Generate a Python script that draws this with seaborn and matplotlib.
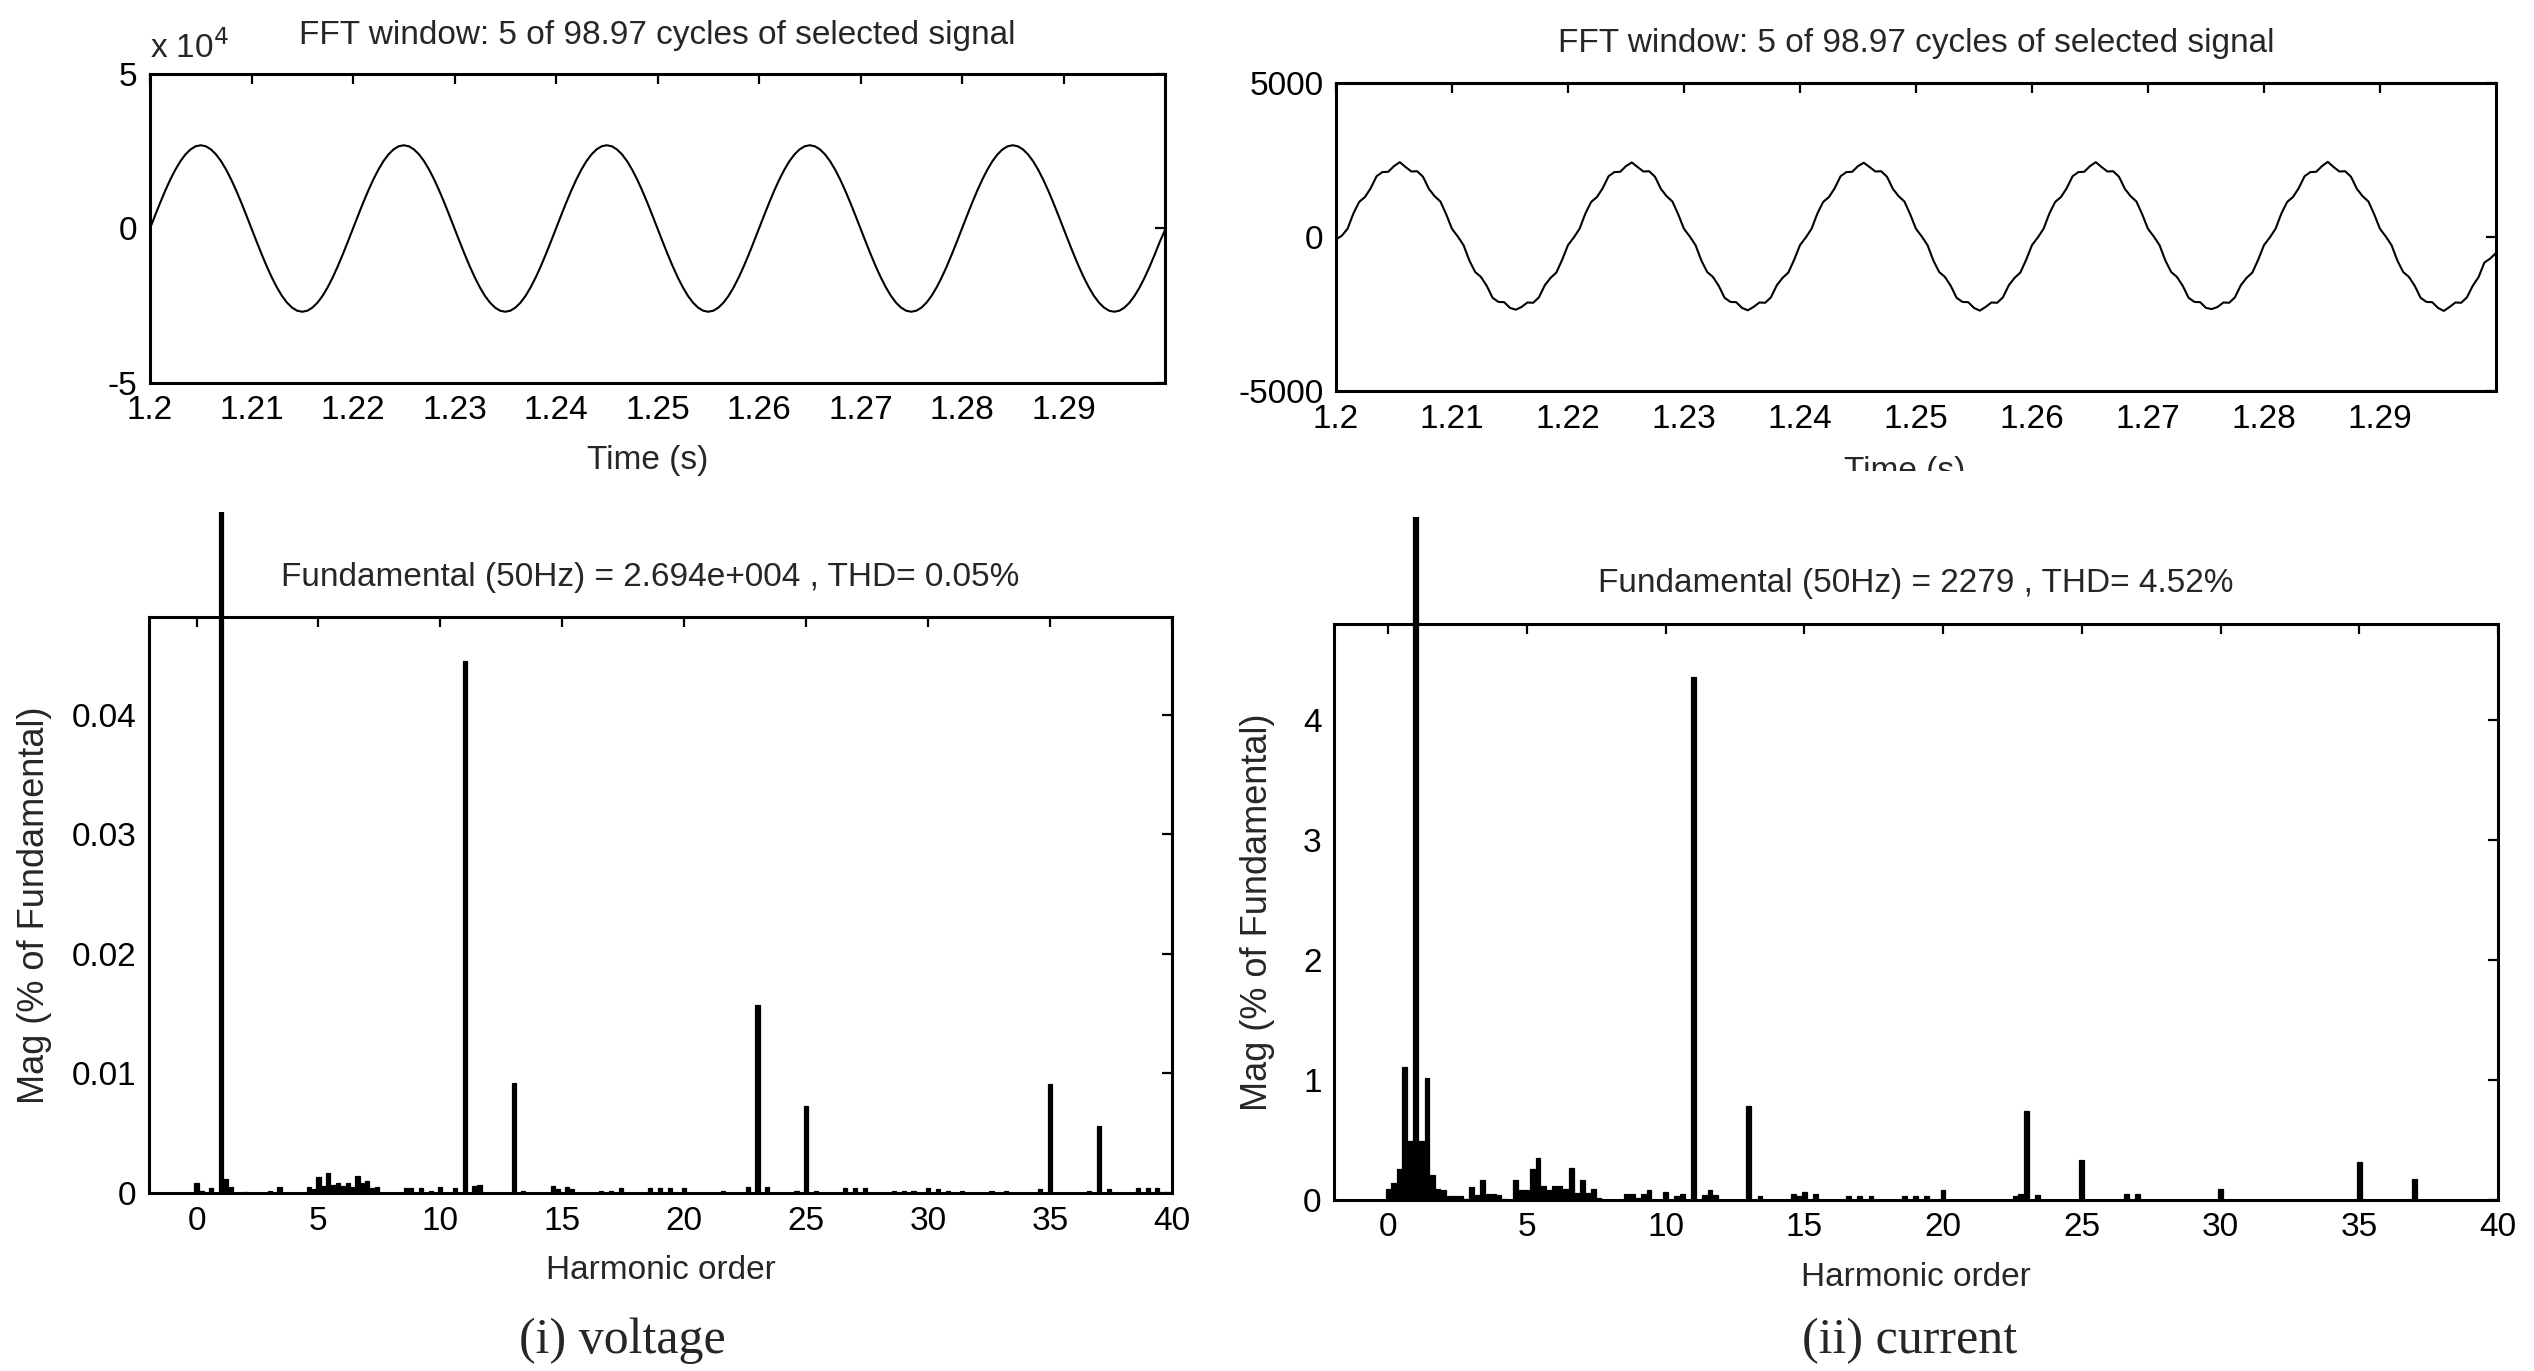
import numpy as np
import pandas as pd
import matplotlib
matplotlib.use("Agg")
import matplotlib.pyplot as plt
import matplotlib.transforms as mtransforms
import seaborn as sns

# ---------------- data ----------------
# voltage waveform, units of 1e4 V, samples every 0.5 ms from 1.2 s to 1.3 s
voltage_e4 = [
    0, 0.421, 0.832, 1.223, 1.584, 1.905, 2.180, 2.400, 2.561, 2.661, 2.694, 2.661, 2.561, 2.400, 2.180, 1.905, 1.584, 1.223, 0.832, 0.421,
    0, -0.421, -0.832, -1.223, -1.584, -1.905, -2.180, -2.400, -2.561, -2.661, -2.694, -2.661, -2.561, -2.400, -2.180, -1.905, -1.584, -1.223, -0.832, -0.421,
    0, 0.421, 0.832, 1.223, 1.584, 1.905, 2.180, 2.400, 2.561, 2.661, 2.694, 2.661, 2.561, 2.400, 2.180, 1.905, 1.584, 1.223, 0.832, 0.421,
    0, -0.421, -0.832, -1.223, -1.584, -1.905, -2.180, -2.400, -2.561, -2.661, -2.694, -2.661, -2.561, -2.400, -2.180, -1.905, -1.584, -1.223, -0.832, -0.421,
    0, 0.421, 0.832, 1.223, 1.584, 1.905, 2.180, 2.400, 2.561, 2.661, 2.694, 2.661, 2.561, 2.400, 2.180, 1.905, 1.584, 1.223, 0.832, 0.421,
    0, -0.421, -0.832, -1.223, -1.584, -1.905, -2.180, -2.400, -2.561, -2.661, -2.694, -2.661, -2.561, -2.400, -2.180, -1.905, -1.584, -1.223, -0.832, -0.421,
    0, 0.421, 0.832, 1.223, 1.584, 1.905, 2.180, 2.400, 2.561, 2.661, 2.694, 2.661, 2.561, 2.400, 2.180, 1.905, 1.584, 1.223, 0.832, 0.421,
    0, -0.421, -0.832, -1.223, -1.584, -1.905, -2.180, -2.400, -2.561, -2.661, -2.694, -2.661, -2.561, -2.400, -2.180, -1.905, -1.584, -1.223, -0.832, -0.421,
    0, 0.421, 0.832, 1.223, 1.584, 1.905, 2.180, 2.400, 2.561, 2.661, 2.694, 2.661, 2.561, 2.400, 2.180, 1.905, 1.584, 1.223, 0.832, 0.421,
    0, -0.421, -0.832, -1.223, -1.584, -1.905, -2.180, -2.400, -2.561, -2.661, -2.694, -2.661, -2.561, -2.400, -2.180, -1.905, -1.584, -1.223, -0.832, -0.421,
    -0.05,
]

# current waveform, A, samples every 0.5 ms from 1.2 s to 1.3 s
current_a = [
    -80, 40, 269, 765, 1139, 1299, 1588, 1974, 2107, 2117, 2302, 2429, 2271, 2127, 2135, 1956, 1566, 1325, 1153, 736,
    264, 16, -269, -765, -1139, -1299, -1588, -1974, -2107, -2117, -2302, -2360, -2271, -2127, -2135, -1956, -1566, -1325, -1153, -736,
    -264, -16, 269, 765, 1139, 1299, 1588, 1974, 2107, 2117, 2302, 2420, 2271, 2127, 2135, 1956, 1566, 1325, 1153, 736,
    264, 16, -269, -765, -1139, -1299, -1588, -1974, -2107, -2117, -2302, -2380, -2271, -2127, -2135, -1956, -1566, -1325, -1153, -736,
    -264, -16, 269, 765, 1139, 1299, 1588, 1974, 2107, 2117, 2302, 2410, 2271, 2127, 2135, 1956, 1566, 1325, 1153, 736,
    264, 16, -269, -765, -1139, -1299, -1588, -1974, -2107, -2117, -2302, -2390, -2271, -2127, -2135, -1956, -1566, -1325, -1153, -736,
    -264, -16, 269, 765, 1139, 1299, 1588, 1974, 2107, 2117, 2302, 2429, 2271, 2127, 2135, 1956, 1566, 1325, 1153, 736,
    264, 16, -269, -765, -1139, -1299, -1588, -1974, -2107, -2117, -2302, -2340, -2271, -2127, -2135, -1956, -1566, -1325, -1153, -736,
    -264, -16, 269, 765, 1139, 1299, 1588, 1974, 2107, 2117, 2302, 2440, 2271, 2127, 2135, 1956, 1566, 1325, 1153, 736,
    264, 16, -269, -765, -1139, -1299, -1588, -1974, -2107, -2117, -2302, -2400, -2271, -2127, -2135, -1956, -1580, -1300, -830, -700,
    -520,
]

time_start, time_end = 1.2, 1.3
time_ticks = [1.2, 1.21, 1.22, 1.23, 1.24, 1.25, 1.26, 1.27, 1.28, 1.29]
time_tick_labels = ["1.2", "1.21", "1.22", "1.23", "1.24", "1.25", "1.26", "1.27", "1.28", "1.29"]

# voltage spectrum: harmonic order, magnitude (% of fundamental)
v_order = [0.0, 0.2, 0.6, 1.0, 1.2, 1.4, 2.0, 3.0, 3.4, 4.6, 4.8, 5.0, 5.2, 5.4, 5.6, 5.8, 6.0, 6.2, 6.4,
           6.6, 6.8, 7.0, 7.2, 7.4, 8.6, 8.8, 9.2, 9.6, 10.0, 10.6, 11.0, 11.4, 11.6, 13.0, 13.4, 14.6,
           14.8, 15.2, 15.4, 16.6, 17.0, 17.4, 18.6, 19.0, 19.4, 20.0, 21.6, 22.6, 23.0, 23.4, 24.6,
           25.0, 25.4, 26.6, 27.0, 27.4, 28.6, 29.0, 29.4, 30.0, 30.4, 30.8, 31.4, 32.6, 33.2, 34.6,
           35.0, 36.6, 37.0, 37.4, 38.6, 39.0, 39.4]
v_mag = [0.0008, 0.0002, 0.0004, 100.0, 0.0012, 0.0005, 0.0001, 0.0002, 0.0005, 0.0005, 0.0003, 0.0013,
         0.0006, 0.0017, 0.0007, 0.0008, 0.0006, 0.0008, 0.0005, 0.0014, 0.0008, 0.0010, 0.0004, 0.0005,
         0.0004, 0.0004, 0.0004, 0.0002, 0.0005, 0.0004, 0.0445, 0.0006, 0.0007, 0.0092, 0.0002, 0.0006,
         0.0003, 0.0005, 0.0003, 0.0002, 0.0002, 0.0004, 0.0004, 0.0004, 0.0004, 0.0004, 0.0002, 0.0005,
         0.0157, 0.0005, 0.0002, 0.0073, 0.0002, 0.0004, 0.0004, 0.0004, 0.0002, 0.0002, 0.0002, 0.0004,
         0.0003, 0.0002, 0.0002, 0.0002, 0.0002, 0.0003, 0.0091, 0.0002, 0.0056, 0.0003, 0.0004, 0.0004,
         0.0004]

# current spectrum: harmonic order, magnitude (% of fundamental)
i_order = [0.0, 0.2, 0.4, 0.6, 0.8, 1.0, 1.2, 1.4, 1.6, 1.8, 2.0, 2.2, 2.4, 2.6, 2.8, 3.0, 3.2, 3.4, 3.6,
           3.8, 4.0, 4.2, 4.6, 4.8, 5.0, 5.2, 5.4, 5.6, 5.8, 6.0, 6.2, 6.4, 6.6, 6.8, 7.0, 7.2, 7.4, 7.6,
           8.6, 8.8, 9.0, 9.2, 9.4, 10.0, 10.4, 10.6, 11.0, 11.4, 11.6, 11.8, 13.0, 13.4, 14.6, 14.8,
           15.0, 15.4, 16.6, 17.0, 17.4, 18.6, 19.0, 19.4, 20.0, 22.6, 22.8, 23.0, 23.4, 25.0, 26.6,
           27.0, 30.0, 35.0, 37.0]
i_mag = [0.09, 0.14, 0.26, 1.11, 0.49, 100.0, 0.49, 1.02, 0.21, 0.09, 0.08, 0.03, 0.03, 0.03, 0.01, 0.11,
         0.04, 0.17, 0.05, 0.05, 0.04, 0.01, 0.17, 0.08, 0.08, 0.26, 0.35, 0.12, 0.08, 0.12, 0.12, 0.09,
         0.27, 0.06, 0.17, 0.06, 0.09, 0.02, 0.05, 0.05, 0.02, 0.05, 0.08, 0.07, 0.03, 0.05, 4.36, 0.04,
         0.08, 0.04, 0.78, 0.03, 0.05, 0.03, 0.07, 0.05, 0.03, 0.03, 0.03, 0.03, 0.03, 0.03, 0.08, 0.03,
         0.05, 0.745, 0.04, 0.33, 0.05, 0.05, 0.09, 0.32, 0.175]

v_ticks = [0, 5, 10, 15, 20, 25, 30, 35, 40]
v_yticks = [0, 0.01, 0.02, 0.03, 0.04]
v_yticklabels = ["0", "0.01", "0.02", "0.03", "0.04"]
i_yticks = [0, 1, 2, 3, 4]

title_wave = "FFT window: 5 of 98.97 cycles of selected signal"
title_v = "Fundamental (50Hz) = 2.694e+004 , THD= 0.05%"
title_i = "Fundamental (50Hz) = 2279 , THD= 4.52%"

# ---------------- style ----------------
sns.set_theme(style="white")
NARROW = ["Liberation Sans Narrow", "Liberation Sans", "DejaVu Sans"]
plt.rcParams["font.family"] = NARROW
plt.rcParams["axes.linewidth"] = 2.2
plt.rcParams["axes.edgecolor"] = "black"

W, H = 2534, 1371
fig = plt.figure(figsize=(W / 100, H / 100), dpi=100)
fig.patch.set_facecolor("white")


def px_axes(l, t, r, b):
    return fig.add_axes([l / W, 1 - b / H, (r - l) / W, (b - t) / H])


ax_tl = px_axes(150, 74, 1165, 383)
ax_tr = px_axes(1336, 83, 2496, 391)
ax_bl = px_axes(149, 617, 1172, 1193)
ax_br = px_axes(1334, 624, 2498, 1200)

TICK_FS = 24
LABEL_FS = 24


def style_axes(ax):
    ax.set_facecolor("white")
    for s in ax.spines.values():
        s.set_visible(True)
        s.set_color("black")
        s.set_linewidth(2.2)
    ax.tick_params(axis="both", direction="in", top=True, right=True, length=7, width=1.6,
                   colors="black", labelsize=TICK_FS)
    ax.tick_params(axis="x", pad=9)
    ax.tick_params(axis="y", pad=9)
    ax.grid(False)


# ---- top waveforms ----
t_v = np.linspace(time_start, time_end, len(voltage_e4))
t_i = np.linspace(time_start, time_end, len(current_a))

sns.lineplot(x=t_v, y=voltage_e4, ax=ax_tl, color="black", linewidth=1.5, estimator=None, sort=False)
sns.lineplot(x=t_i, y=current_a, ax=ax_tr, color="black", linewidth=1.5, estimator=None, sort=False)

for ax in (ax_tl, ax_tr):
    style_axes(ax)
    ax.set_xlim(time_start, time_end)
    ax.set_xticks(time_ticks)
    ax.set_xticklabels(time_tick_labels)
    ax.set_xlabel("Time (s)", fontsize=LABEL_FS, va="center")
    ax.set_ylabel("")

ax_tl.set_ylim(-5, 5)
ax_tl.set_yticks([-5, 0, 5])
ax_tl.set_yticklabels(["-5", "0", "5"])
ax_tr.set_ylim(-5000, 5000)
ax_tr.set_yticks([-5000, 0, 5000])
ax_tr.set_yticklabels(["-5000", "0", "5000"])

ax_tl.xaxis.set_label_coords(0.49, -0.252)
ax_tr.xaxis.set_label_coords(0.49, -0.26)
# the right-hand "Time (s)" is cut off in the source image
clip = mtransforms.TransformedBbox(mtransforms.Bbox.from_extents(0, 1 - 471 / H, 1, 1), fig.transFigure)
ax_tr.xaxis.label.set_clip_box(clip)
ax_tr.xaxis.label.set_clip_on(True)

ax_tl.text(0.5, 1.123, title_wave, transform=ax_tl.transAxes, ha="center", va="center", fontsize=LABEL_FS)
ax_tr.text(0.5, 1.127, title_wave, transform=ax_tr.transAxes, ha="center", va="center", fontsize=LABEL_FS)
ax_tl.text(0.0, 1.084, r"x 10$^{4}$", transform=ax_tl.transAxes, ha="left", va="center", fontsize=LABEL_FS)

# ---- bottom spectra ----
df_v = pd.DataFrame({"order": v_order, "mag": v_mag})
df_i = pd.DataFrame({"order": i_order, "mag": i_mag})

sns.barplot(data=df_v, x="order", y="mag", ax=ax_bl, native_scale=True, color="black",
            saturation=1, errorbar=None, width=0.85, edgecolor="black", linewidth=0.9)
sns.barplot(data=df_i, x="order", y="mag", ax=ax_br, native_scale=True, color="black",
            saturation=1, errorbar=None, width=0.85, edgecolor="black", linewidth=0.9)

for ax, ytop, yticks, ylabels, ext in (
    (ax_bl, 0.0482, v_yticks, v_yticklabels, 1.182),
    (ax_br, 4.80, i_yticks, [str(v) for v in i_yticks], 1.186),
):
    style_axes(ax)
    ax.set_xlim(-1.95, 40)
    ax.set_ylim(0, ytop)
    ax.set_xticks(v_ticks)
    ax.set_xticklabels([str(v) for v in v_ticks])
    ax.set_yticks(yticks)
    ax.set_yticklabels(ylabels)
    ax.set_xlabel("Harmonic order", fontsize=LABEL_FS, va="center")
    ax.set_ylabel("Mag (% of Fundamental)", fontsize=26, va="center",
                  family=["Liberation Sans", "DejaVu Sans"])
    ax.xaxis.set_label_coords(0.5, -0.134)
    # the fundamental bar runs past the top of the axes, as in the source
    box = mtransforms.TransformedBbox(mtransforms.Bbox.from_extents(0, 0, 1, ext), ax.transAxes)
    for p in ax.patches:
        if p.get_height() > ytop:
            p.set_clip_box(box)
            p.set_clip_on(True)

ax_bl.yaxis.set_label_coords(-0.112, 0.5)
ax_br.yaxis.set_label_coords(-0.066, 0.5)

ax_bl.text(0.49, 1.069, title_v, transform=ax_bl.transAxes, ha="center", va="center", fontsize=LABEL_FS)
ax_br.text(0.5, 1.071, title_i, transform=ax_br.transAxes, ha="center", va="center", fontsize=LABEL_FS)

# captions
fig.text(622 / W, 1 - 1341 / H, "(i) voltage", ha="center", va="center", fontsize=36,
         family=["Liberation Serif", "DejaVu Serif"])
fig.text(1910 / W, 1 - 1341 / H, "(ii) current", ha="center", va="center", fontsize=36,
         family=["Liberation Serif", "DejaVu Serif"])

fig.savefig("out.png", dpi=100, facecolor="white")
